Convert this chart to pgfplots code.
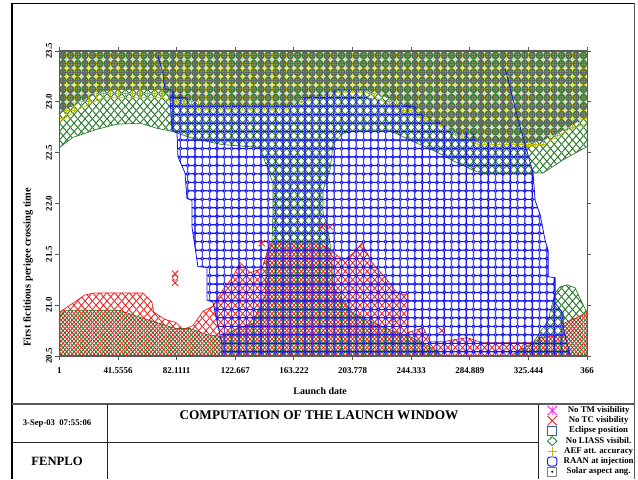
\documentclass[border=0pt]{standalone}
\usepackage{fontspec}
\setmainfont{Liberation Serif}
\usepackage{pgfplots}
\pgfplotsset{compat=1.18}
\usetikzlibrary{patterns}
\definecolor{noTC}{HTML}{F01818}
\definecolor{noTM}{HTML}{FF20FF}
\definecolor{liass}{HTML}{2A7A2A}
\definecolor{aef}{HTML}{BEBE00}
\definecolor{eclipse}{HTML}{66666E}
\definecolor{raan}{HTML}{1414F0}
\definecolor{solar}{HTML}{E8ECDC}
\definecolor{band}{HTML}{878C6C}
\definecolor{frameGrey}{HTML}{5A5A5A}

% tile of the symbol grid: 7.33 x 8.47 px, 1 px = 0.75 pt
\def\hw{2.74875}
\def\hh{3.17625}
\def\sx{0.57}
\def\sy{3.30}
\pgfmathsetmacro\llx{\sx-\hw}
\pgfmathsetmacro\lly{\sy-\hh}
\pgfmathsetmacro\urx{\sx+\hw}
\pgfmathsetmacro\ury{\sy+\hh}
\newcommand\tile[2]{\pgfdeclarepatternformonly{#1}{\pgfpoint{\llx pt}{\lly pt}}{\pgfpoint{\urx pt}{\ury pt}}{\pgfpoint{5.4975pt}{6.3525pt}}{\pgftransformshift{\pgfpoint{\sx pt}{\sy pt}}#2}}
\tile{tileX}{\pgfsetlinewidth{0.6pt}%
  \pgfpathmoveto{\pgfpoint{-\hw pt}{-\hh pt}}\pgfpathlineto{\pgfpoint{\hw pt}{\hh pt}}%
  \pgfpathmoveto{\pgfpoint{-\hw pt}{\hh pt}}\pgfpathlineto{\pgfpoint{\hw pt}{-\hh pt}}\pgfusepath{stroke}}
\tile{tileDiamond}{\pgfsetlinewidth{0.7pt}%
  \pgfpathmoveto{\pgfpoint{-\hw pt}{0pt}}\pgfpathlineto{\pgfpoint{0pt}{\hh pt}}\pgfpathlineto{\pgfpoint{\hw pt}{0pt}}\pgfpathlineto{\pgfpoint{0pt}{-\hh pt}}\pgfpathclose\pgfusepath{stroke}}
\tile{tilePlus}{\pgfsetlinewidth{0.8pt}%
  \pgfpathmoveto{\pgfpoint{-\hw pt}{0pt}}\pgfpathlineto{\pgfpoint{\hw pt}{0pt}}%
  \pgfpathmoveto{\pgfpoint{0pt}{-\hh pt}}\pgfpathlineto{\pgfpoint{0pt}{\hh pt}}\pgfusepath{stroke}}
\tile{tileRect}{\pgfsetlinewidth{0.95pt}%
  \pgfpathrectanglecorners{\pgfpoint{-\hw pt}{-\hh pt}}{\pgfpoint{\hw pt}{\hh pt}}\pgfusepath{stroke}}
\tile{tileRing}{\pgfsetlinewidth{0.7pt}%
  \pgfpathcircle{\pgfpointorigin}{1.1pt}\pgfusepath{stroke}}
\tile{tileRound}{\pgfsetlinewidth{0.85pt}\pgfsetcornersarced{\pgfpoint{1.1pt}{1.1pt}}%
  \pgfpathrectanglecorners{\pgfpoint{-\hw pt}{-\hh pt}}{\pgfpoint{\hw pt}{\hh pt}}\pgfusepath{stroke}}

% region outlines: launch date, perigee crossing time
\pgfplotstableread{
x y
1 22.55
10.3 22.65
27.0 22.73
40.8 22.78
56.7 22.79
68.5 22.74
78.9 22.71
80.9 22.70
93.4 22.64
113.5 22.58
139.7 22.55
144.6 22.36
148.7 22.20
148.7 21.91
148.0 21.61
144.6 21.52
143.2 21.08
138.4 20.95
134.9 20.82
123.8 20.77
113.5 20.69
103.1 20.71
91.3 20.77
81.6 20.77
63.6 20.85
46.3 20.93
42.9 20.95
4.8 20.95
1 20.89
1 20.5
266.4 20.5
257.4 20.59
243.6 20.69
234.6 20.73
222.8 20.80
204.1 20.92
190.3 21.18
188.2 21.61
186.1 21.79
183.3 21.91
183.3 22.13
188.2 22.33
190.3 22.59
197.2 22.69
208.9 22.72
229.7 22.72
243.6 22.62
250.5 22.58
262.9 22.50
276.1 22.40
289.9 22.31
298.9 22.30
324.5 22.30
335.6 22.30
349.4 22.43
366 22.56
366 23.5
1 23.5
}\liassTable
\pgfplotstableread{
x y
312.7 20.5
328.6 20.63
339 20.85
343.9 21.12
347.3 21.18
352.2 21.20
357.7 21.17
363.3 21.0
366 20.93
366 20.5
}\liassRight
\pgfplotstableread{
x y
1 20.93
8.3 21.0
18.6 21.10
25.6 21.12
58.8 21.12
65.0 21.03
66.4 20.93
74.0 20.86
81.6 20.83
86.5 20.76
93.4 20.80
100.3 20.94
107.2 20.99
114.1 21.15
121.1 21.28
125.9 21.42
132.8 21.32
141.1 21.36
146.7 21.61
181.3 21.61
190.3 21.52
197.2 21.44
204.1 21.51
210.3 21.61
217.2 21.42
227.6 21.25
234.6 21.12
242.2 21.10
242.2 20.73
252.6 20.78
257.4 20.64
266.4 20.64
273.3 20.66
283 20.68
293.4 20.63
328.6 20.63
333.5 20.68
349.4 20.71
349.4 20.82
357.7 20.87
366 20.93
366 20.5
1 20.5
}\tcTable
\pgfplotstableread{
x y
1 22.80
13.1 22.92
31.1 23.04
72.6 23.04
79.5 23.00
94.8 22.92
160.5 22.92
167.4 22.99
193.0 23.09
213.8 23.09
240.1 22.89
250.5 22.84
265.7 22.75
276.1 22.66
290.6 22.58
319.7 22.58
324.5 22.56
335.6 22.57
352.2 22.72
366 22.79
366 23.5
1 23.5
}\aefTable
\pgfplotstableread{
x y
1 22.89
15.2 23.00
29.0 23.10
40.8 23.12
70.5 23.12
75.4 23.07
79.5 23.04
98.2 23.00
98.2 22.97
162.6 22.97
169.5 23.04
190.3 23.07
195.8 23.12
213.8 23.12
236.6 22.99
250.5 22.87
262.2 22.79
271.2 22.72
287.1 22.62
321.7 22.59
335.6 22.62
349.4 22.72
361.2 22.82
366 22.85
366 23.5
1 23.5
}\eclipseTable
\pgfplotstableread{
x y
77.5 23.12
98.2 22.97
162.6 22.97
169.5 23.04
193 23.12
213.8 23.12
213.8 23.04
236.6 22.99
248.4 22.95
252.6 22.87
264.4 22.79
273.4 22.70
287.1 22.70
288.5 22.62
323.1 22.58
328.6 22.30
330 22.03
333.5 21.89
336.9 21.64
339 21.54
339 21.28
343.9 21.27
343.9 21.02
349.4 20.92
349.4 20.78
353.6 20.54
354.3 20.5
113.5 20.5
113.5 20.61
107.2 21.03
103.1 21.05
103.1 21.37
96.8 21.38
92.7 21.77
92.7 22.03
89.2 22.05
87.9 22.30
83 22.46
82.3 22.70
78.9 22.72
77.5 23.04
}\raanTable

\begin{document}
\begin{tikzpicture}[x=0.75pt,y=0.75pt]
\fill[white] (0,0) rectangle (638,479);
\path[use as bounding box] (0,0) rectangle (638,479);

\begin{axis}[
  at={(44.55pt,92.25pt)}, anchor=south west,
  scale only axis, width=395.8pt, height=228.75pt,
  xmin=1, xmax=366, ymin=20.5, ymax=23.5,
  xtick={1,41.5556,82.1111,122.667,163.222,203.778,244.333,284.889,325.444,366},
  xticklabels={1,41.5556,82.1111,122.667,163.222,203.778,244.333,284.889,325.444,366},
  ytick={20.5,21,21.5,22,22.5,23,23.5},
  yticklabels={20.5,21.0,21.5,22.0,22.5,23.0,23.5},
  tick align=outside, tick pos=both, major tick length=3pt,
  tick style={frameGrey,line width=0.7pt},
  axis line style={frameGrey,line width=0.9pt},
  axis on top,
  tick label style={font=\fontsize{6.7}{7}\selectfont\bfseries},
  yticklabel style={rotate=90,anchor=south,yshift=-1pt},
  xticklabel style={yshift=-2pt},
  xlabel={Launch date},
  ylabel={First fictitious perigee crossing time},
  xlabel style={font=\fontsize{7.45}{8}\selectfont\bfseries,at={(axis description cs:0.494,-0.115)},anchor=center},
  ylabel style={font=\fontsize{7.8}{8}\selectfont\bfseries,at={(axis description cs:-0.0595,0.29)},anchor=center},
  legend style={at={(axis description cs:1.006,-0.279)},anchor=center,draw=none,fill=none,
    inner sep=0pt,row sep=0pt,column sep=4.75pt,
    nodes={inner sep=0pt,minimum height=7.65pt,font=\fontsize{6.6}{6.8}\selectfont\bfseries}},
  legend cell align=center,
]
\addplot[forget plot,draw=none,fill=band] table {\eclipseTable} --cycle;
\addplot[forget plot,line width=0.5pt,draw=liass,pattern=tileDiamond,pattern color=liass] table {\liassTable} --cycle;
\addplot[forget plot,line width=0.5pt,draw=liass,pattern=tileDiamond,pattern color=liass] table {\liassRight} --cycle;
\addplot[forget plot,line width=0.5pt,draw=noTC,pattern=tileX,pattern color=noTC] table {\tcTable} --cycle;
\addplot[forget plot,only marks,mark=x,mark size=3.4pt,mark options={noTC,line width=0.6pt}] coordinates
  {(81,21.31) (81,21.22) (141,21.61) (182.5,21.77) (188,21.77) (265.5,20.75)};
\addplot[forget plot,only marks,mark=o,mark size=1.9pt,mark options={noTC,line width=0.5pt}] coordinates
  {(81,21.27) (232,20.86)};
\addplot[forget plot,line width=0.5pt,draw=aef,pattern=tilePlus,pattern color=aef] table {\aefTable} --cycle;
\addplot[forget plot,draw=none,pattern=tileRect,pattern color=eclipse] table {\eclipseTable} --cycle;
\addplot[forget plot,draw=none,pattern=tileRing,pattern color=solar] table {\eclipseTable} --cycle;
\addplot[forget plot,draw=none,pattern=tileRound,pattern color=raan] table {\raanTable} --cycle;
% RAAN limits: thin in the eclipse band, no edge along the top of the grid
\addplot[forget plot,line width=0.6pt,raan] coordinates {(69.2,23.45) (72.6,23.28) (74,23.13) (77.5,23.12) (77.5,23.04) (78.9,22.72) (82.3,22.70) (83,22.46) (87.9,22.30) (89.2,22.05) (92.7,22.03) (92.7,21.77) (96.8,21.38) (103.1,21.37) (103.1,21.05) (107.2,21.03) (113.5,20.61) (113.5,20.5)};
\addplot[forget plot,line width=0.6pt,raan] coordinates {(309.3,23.33) (318.3,22.82) (323.1,22.58) (328.6,22.30) (330,22.03) (333.5,21.89) (336.9,21.64) (339,21.54) (339,21.28) (343.9,21.27) (343.9,21.02) (349.4,20.92) (349.4,20.78) (353.6,20.54) (354.3,20.5)};
% bottom axis is black in the reference
\addplot[forget plot,black,line width=0.9pt] coordinates {(1,20.5) (366,20.5)};

\addlegendimage{legend image code/.code={\draw[noTM,line width=0.6pt] (2pt,-3.5pt)--(9pt,3.5pt) (2pt,3.5pt)--(9pt,-3.5pt) (5.5pt,-3.5pt)--(5.5pt,3.5pt);}}
\addlegendentry{No TM visibility}
\addlegendimage{legend image code/.code={\draw[noTC,line width=0.6pt] (2pt,-3.5pt)--(9pt,3.5pt) (2pt,3.5pt)--(9pt,-3.5pt);}}
\addlegendentry{No TC visibility}
\addlegendimage{legend image code/.code={\draw[color=black!30!cyan!50!blue,line width=0.6pt] (2pt,-3.4pt) rectangle (9pt,3.4pt);}}
\addlegendentry{Eclipse position}
\addlegendimage{legend image code/.code={\draw[liass,line width=0.6pt] (2pt,0pt)--(5.5pt,3.4pt)--(9pt,0pt)--(5.5pt,-3.4pt)--cycle;}}
\addlegendentry{No LIASS visibil.}
\addlegendimage{legend image code/.code={\draw[aef,line width=0.6pt] (2pt,0pt)--(9pt,0pt) (5.5pt,-3.5pt)--(5.5pt,3.5pt);}}
\addlegendentry{AEF att. accuracy}
\addlegendimage{legend image code/.code={\draw[raan,line width=0.7pt,rounded corners=2pt] (2pt,-3.4pt) rectangle (9pt,3.4pt);}}
\addlegendentry{RAAN at injection}
\addlegendimage{legend image code/.code={\draw[gray,line width=0.6pt] (2pt,-3.4pt) rectangle (9pt,3.4pt); \draw[black,line width=0.5pt] (5.5pt,0pt) circle (0.5pt);}}
\addlegendentry{Solar aspect ang.}
\end{axis}

% page frame and title block
\draw[black,line width=0.8pt] (12,0)--(12,475.5)--(634,475.5);
\draw[frameGrey,line width=1.4pt] (634.5,476)--(634.5,0);
\draw[frameGrey,line width=0.9pt] (12,75)--(634,75);
\draw[black!85,line width=0.7pt] (107,75)--(107,0);
\draw[black!85,line width=0.7pt] (538,75)--(538,0);
\draw[black!85,line width=0.7pt] (12,37)--(538,37);
\node[font=\fontsize{6.5}{7}\selectfont\bfseries] at (57,55) {3-Sep-03\ \ 07:55:06};
\node[font=\fontsize{9.5}{10}\selectfont\bfseries] at (57,18) {FENPLO};
\node[font=\fontsize{9.95}{10}\selectfont\bfseries] at (319,64) {COMPUTATION OF THE LAUNCH WINDOW};
\end{tikzpicture}
\end{document}
